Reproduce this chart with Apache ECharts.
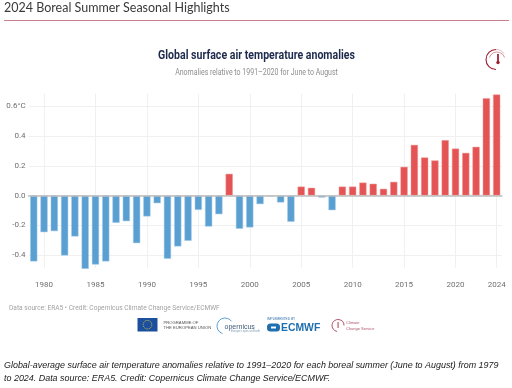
<!DOCTYPE html>
<html>
<head>
<meta charset="utf-8">
<style>
  html, body { margin: 0; padding: 0; background: #fff; }
  #chart { width: 512px; height: 388px; }
</style>
<script src="https://cdn.jsdelivr.net/npm/echarts@6/dist/echarts.min.js"></script>
</head>
<body>
<div id="chart"></div>
<script>
// Global surface air temperature anomalies, June to August
const years = ["1979","1980","1981","1982","1983","1984","1985","1986","1987","1988","1989","1990",
  "1991","1992","1993","1994","1995","1996","1997","1998","1999","2000","2001","2002","2003","2004",
  "2005","2006","2007","2008","2009","2010","2011","2012","2013","2014","2015","2016","2017","2018",
  "2019","2020","2021","2022","2023","2024"];
const anomalies = [-0.444,-0.247,-0.24,-0.404,-0.276,-0.494,-0.465,-0.444,-0.184,-0.173,-0.321,-0.141,
  -0.052,-0.426,-0.343,-0.305,-0.097,-0.209,-0.126,0.146,-0.224,-0.215,-0.058,-0.002,-0.047,-0.177,
  0.06,0.052,-0.014,-0.099,0.06,0.06,0.087,0.079,0.045,0.092,0.193,0.341,0.256,0.236,
  0.373,0.316,0.287,0.328,0.655,0.68];
const yearLabels = ["1980","1985","1990","1995","2000","2005","2010","2015","2020","2024"];

const blue = "#5a9fd2";
const red = "#e55454";
const gridColor = "#f0f0f0";
const labelColor = "#6f6f6f";

function txt(x, y, text, font, fill, extra) {
  return Object.assign({
    type: "text", x: x, y: y,
    style: { text: text, font: font, fill: fill, textVerticalAlign: "middle" }
  }, extra || {});
}
function condensed(x, y, text, font, fill, align) {
  // no Roboto Condensed installed, squeeze plain Roboto instead
  const t = txt(x, y, text, font, fill, { scaleX: 0.84 });
  t.style.textAlign = align || "left";
  return t;
}

const option = {
  animation: false,
  backgroundColor: "#fff",
  grid: [
    { left: 28.6, right: 10.2, top: 76.7, bottom: 103.4 },
    { left: 28.6, right: 10.2, top: 94, bottom: 120 }
  ],
  xAxis: [
    {
      type: "category",
      gridIndex: 0,
      data: years,
      axisLine: { onZero: true, lineStyle: { color: "#bdbdbd", width: 1.6 } },
      axisTick: { show: false },
      axisLabel: { show: false },
      splitLine: { show: false },
      z: 5
    },
    {
      type: "category",
      gridIndex: 1,
      data: years,
      axisLine: { show: false },
      axisTick: { show: false },
      axisLabel: {
        interval: (i, v) => yearLabels.includes(v),
        color: labelColor,
        fontFamily: "Roboto",
        fontSize: 8,
        margin: 13,
        hideOverlap: false
      },
      splitLine: {
        show: true,
        alignWithLabel: true,
        interval: (i, v) => yearLabels.includes(v),
        lineStyle: { color: gridColor, width: 1 }
      }
    }
  ],
  yAxis: [
    {
      type: "value",
      gridIndex: 0,
      min: -0.6,
      max: 0.8,
      interval: 0.2,
      axisLine: { show: false },
      axisTick: { show: false },
      axisLabel: {
        color: labelColor,
        fontFamily: "Roboto",
        fontSize: 8,
        margin: 3,
        showMinLabel: false,
        showMaxLabel: false,
        formatter: (v) => v === 0.6 ? "0.6°C" : v.toFixed(1)
      },
      splitLine: {
        show: true,
        showMinLine: false,
        showMaxLine: false,
        lineStyle: { color: gridColor, width: 1 }
      }
    },
    { type: "value", gridIndex: 1, show: false }
  ],
  series: [
    {
      type: "bar",
      xAxisIndex: 0,
      yAxisIndex: 0,
      data: anomalies.map((v) => ({
        value: v,
        itemStyle: {
          color: v < 0 ? blue : red,
          borderColor: v < 0 ? "#a8cde9" : "#f29a9a",
          borderWidth: 0.5
        }
      })),
      barWidth: 7.2,
      z: 3
    }
  ],
  graphic: [
    txt(4, 8, "2024 Boreal Summer Seasonal Highlights", "12.5px Lato", "#3a3a3a"),
    { type: "rect", shape: { x: 4, y: 20, width: 505, height: 1 }, style: { fill: "#c97f8d" } },
    condensed(256.5, 56, "Global surface air temperature anomalies", "bold 12.6px Roboto", "#1d2a4d", "center"),
    condensed(256.5, 73, "Anomalies relative to 1991–2020 for June to August", "8.35px Roboto", "#8e8e8e", "center"),
    // thermometer icon, top right
    { type: "arc", shape: { cx: 496, cy: 59.5, r: 10, startAngle: Math.PI * 0.5, endAngle: Math.PI * 1.5 },
      style: { stroke: "#9c1f30", fill: null, lineWidth: 1.1 } },
    { type: "arc", shape: { cx: 496, cy: 59.5, r: 10, startAngle: Math.PI * 1.5, endAngle: Math.PI * 1.8 },
      style: { stroke: "#e3b9c0", fill: null, lineWidth: 1 } },
    { type: "arc", shape: { cx: 497, cy: 60, r: 8, startAngle: Math.PI * 1.1, endAngle: Math.PI * 1.9 },
      style: { stroke: "#c77a85", fill: null, lineWidth: 0.8 } },
    { type: "rect", shape: { x: 497, y: 54, width: 2, height: 8 }, style: { fill: "#a83a4c" } },
    { type: "circle", shape: { cx: 498, cy: 62.5, r: 1.7 }, style: { fill: "#9c1f30" } },
    // source
    condensed(9, 308, "Data source: ERA5 • Credit: Copernicus Climate Change Service/ECMWF", "7.85px Roboto", "#a3a3a3"),
    // EU logo
    { type: "rect", shape: { x: 137.5, y: 318, width: 20, height: 13.5 }, style: { fill: "#1c4f9c" } },
    { type: "circle", shape: { cx: 147.5, cy: 324.7, r: 4.3 }, style: { fill: null, stroke: "#e6d34a", lineWidth: 1, lineDash: [1, 1.2] } },
    txt(163.5, 322.5, "PROGRAMME OF", "4.2px 'Liberation Sans'", "#555"),
    txt(163.5, 328, "THE EUROPEAN UNION", "4.2px 'Liberation Sans'", "#555"),
    // Copernicus logo
    { type: "arc", shape: { cx: 225, cy: 326, r: 8, startAngle: Math.PI * 0.6, endAngle: Math.PI * 1.8 },
      style: { stroke: "#2f88c6", fill: null, lineWidth: 0.8 } },
    txt(224.5, 327, "opernicus", "7px 'Liberation Sans'", "#3c5a78"),
    txt(231, 331.5, "Europe's eyes on Earth", "2.8px 'Liberation Sans'", "#7a98b0"),
    // ECMWF logo
    txt(267, 319.5, "IMPLEMENTED BY", "3.2px 'Liberation Sans'", "#2a6ea8"),
    { type: "rect", shape: { x: 267, y: 323.5, width: 13, height: 8, r: 3.5 }, style: { fill: "#1f6fae" } },
    { type: "rect", shape: { x: 271, y: 326.5, width: 5, height: 2 }, style: { fill: "#fff" } },
    txt(281, 328, "ECMWF", "bold 10.4px 'Liberation Sans'", "#1f6fae"),
    // Climate Change Service logo
    { type: "arc", shape: { cx: 338, cy: 325.5, r: 6, startAngle: Math.PI * 0.55, endAngle: Math.PI * 2 },
      style: { stroke: "#9c2a40", fill: null, lineWidth: 0.8 } },
    { type: "rect", shape: { x: 337.6, y: 322, width: 0.9, height: 6 }, style: { fill: "#9c2a40" } },
    txt(346, 323, "Climate", "4px 'Liberation Sans'", "#b0596c"),
    txt(346, 329, "Change Service", "4px 'Liberation Sans'", "#b0596c"),
    // caption under the figure
    txt(4, 366, "Global-average surface air temperature anomalies relative to 1991–2020 for each boreal summer (June to August) from 1979", "italic 8.94px 'Liberation Sans'", "#1a1a1a"),
    txt(4, 379, "to 2024. Data source: ERA5. Credit: Copernicus Climate Change Service/ECMWF.", "italic 8.94px 'Liberation Sans'", "#1a1a1a")
  ]
};

const chart = echarts.init(document.getElementById("chart"), null, { renderer: "canvas" });
chart.setOption(option);
window.addEventListener("resize", () => chart.resize());
</script>
</body>
</html>
